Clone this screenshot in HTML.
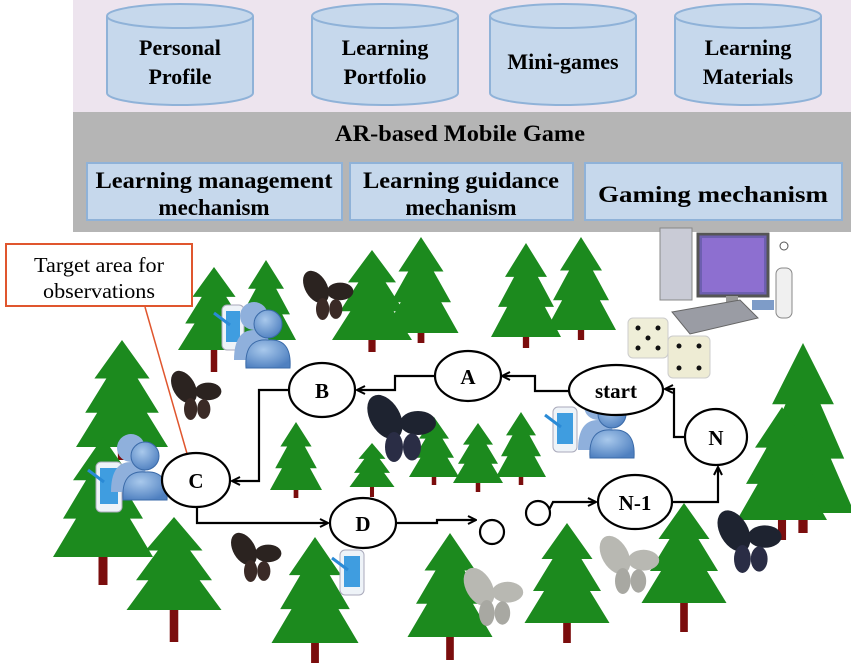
<!DOCTYPE html>
<html><head><meta charset="utf-8"><style>
html,body{margin:0;padding:0;background:#fff;}
svg{display:block;}
text{font-family:"Liberation Serif",serif;font-weight:bold;}
</style></head><body>
<svg id="s" width="851" height="669" viewBox="0 0 851 669" xmlns="http://www.w3.org/2000/svg">
<defs>
<radialGradient id="pg" cx="0.4" cy="0.35" r="0.7"><stop offset="0" stop-color="#a9c9ec"/><stop offset="1" stop-color="#4f80c0"/></radialGradient>
<marker id="ar" markerWidth="10" markerHeight="10" refX="9" refY="5" orient="auto" markerUnits="userSpaceOnUse"><path d="M1,1 L9,5 L1,9" fill="none" stroke="#000" stroke-width="2"/></marker>
</defs>
<rect x="73" y="0" width="778" height="112" fill="#ede4ee"/>
<rect x="73" y="112" width="778" height="120" fill="#b5b5b5"/>
<g id="cyl" fill="#c6d8ec" stroke="#8fb2d8" stroke-width="2"></g>
<text x="460" y="141" font-size="23" text-anchor="middle" textLength="250" lengthAdjust="spacingAndGlyphs">AR-based Mobile Game</text>
<g fill="#c6d8ec" stroke="#8fb2d8" stroke-width="2">
<rect x="87" y="163" width="255" height="57"/>
<rect x="350" y="163" width="223" height="57"/>
<rect x="585" y="163" width="257" height="57"/>
</g>
<g font-size="23" text-anchor="middle">
<text x="214" y="188" textLength="237" lengthAdjust="spacingAndGlyphs">Learning management</text><text x="214" y="215">mechanism</text>
<text x="461" y="188" textLength="196" lengthAdjust="spacingAndGlyphs">Learning guidance</text><text x="461" y="215">mechanism</text>
<text x="713" y="202" textLength="230" lengthAdjust="spacingAndGlyphs">Gaming mechanism</text>
</g>
<g id="trees"></g>
<g>
<rect x="660" y="228" width="32" height="72" fill="#c9cbd6" stroke="#888"/>
<rect x="698" y="234" width="70" height="62" fill="#6d5fb0" stroke="#555" stroke-width="3"/>
<polygon points="702,238 764,238 764,292 702,292" fill="#8d6fd0"/>
<rect x="726" y="296" width="12" height="12" fill="#999"/>
<polygon points="672,312 740,300 758,318 690,334" fill="#9a9ca4" stroke="#666"/>
<rect x="752" y="300" width="22" height="10" fill="#7e9cc8"/>
<rect x="776" y="268" width="16" height="50" rx="6" fill="#f0f0f0" stroke="#888"/>
<circle cx="784" cy="246" r="4" fill="none" stroke="#555"/>
</g>
<g>
<rect x="628" y="318" width="40" height="40" rx="5" fill="#efeed8" stroke="#ccc"/>
<rect x="668" y="336" width="42" height="42" rx="5" fill="#eeecd4" stroke="#ccc"/>
<g fill="#111"><circle cx="638" cy="328" r="2.5"/><circle cx="648" cy="338" r="2.5"/><circle cx="658" cy="348" r="2.5"/><circle cx="658" cy="328" r="2.5"/><circle cx="638" cy="348" r="2.5"/>
<circle cx="679" cy="346" r="2.5"/><circle cx="699" cy="346" r="2.5"/><circle cx="679" cy="368" r="2.5"/><circle cx="699" cy="368" r="2.5"/></g>
</g>
<g id="people"></g>
<g id="bflies"></g>
<rect x="6" y="244" width="186" height="62" fill="#fff" stroke="#e0562e" stroke-width="2"/>
<text x="99" y="272" font-size="21" text-anchor="middle" style="font-weight:normal" textLength="130" lengthAdjust="spacingAndGlyphs">Target area for</text>
<text x="99" y="298" font-size="21" text-anchor="middle" style="font-weight:normal" textLength="112" lengthAdjust="spacingAndGlyphs">observations</text>
<line x1="145" y1="307" x2="194" y2="478" stroke="#e0562e" stroke-width="1.5"/>
<g fill="none" stroke="#000" stroke-width="2.2">
<polyline points="570,391 535,391 535,376 502,376" marker-end="url(#ar)"/>
<polyline points="435,376 395,376 395,390 357,390" marker-end="url(#ar)"/>
<polyline points="292,390 259,390 259,481 232,481" marker-end="url(#ar)"/>
<polyline points="197,507 197,523 328,523" marker-end="url(#ar)"/>
<polyline points="396,523 437,523 437,520 476,520" marker-end="url(#ar)"/>
<polyline points="549,510 553,502 596,502" marker-end="url(#ar)"/>
<polyline points="672,502 718,502 718,467" marker-end="url(#ar)"/>
<polyline points="684,437 674,437 674,389 665,389" marker-end="url(#ar)"/>
</g>
<g fill="#fff" stroke="#000" stroke-width="2.2">
<ellipse cx="468" cy="376" rx="33" ry="25"/>
<ellipse cx="322" cy="390" rx="33" ry="27"/>
<ellipse cx="616" cy="390" rx="47" ry="25"/>
<ellipse cx="716" cy="437" rx="31" ry="28"/>
<ellipse cx="196" cy="480" rx="34" ry="27"/>
<ellipse cx="363" cy="523" rx="33" ry="25"/>
<circle cx="492" cy="532" r="12"/>
<circle cx="538" cy="513" r="12"/>
<ellipse cx="635" cy="502" rx="37" ry="27"/>
</g>
<g font-size="21" text-anchor="middle">
<text x="468" y="384">A</text><text x="322" y="398">B</text><text x="616" y="398">start</text>
<text x="716" y="445">N</text><text x="196" y="488">C</text><text x="363" y="531">D</text><text x="635" y="510">N-1</text>
</g>
<script>
var NS="http://www.w3.org/2000/svg";
function el(p,t,a){var e=document.createElementNS(NS,t);for(var k in a)e.setAttribute(k,a[k]);p.appendChild(e);return e;}
var cy=document.getElementById('cyl');
[[180,"Personal","Profile"],[385,"Learning","Portfolio"],[563,"Mini-games",null],[748,"Learning","Materials"]].forEach(function(c){
var x=c[0],w=73;
el(cy,'path',{d:'M'+(x-w)+',16 L'+(x-w)+',93 A'+w+',12 0 0 0 '+(x+w)+',93 L'+(x+w)+',16'});
el(cy,'ellipse',{cx:x,cy:16,rx:w,ry:12});
var s=document.getElementById('s');
if(c[2]){var t=el(s,'text',{x:x,y:55,'font-size':22,'text-anchor':'middle'});t.textContent=c[1];
t=el(s,'text',{x:x,y:84,'font-size':22,'text-anchor':'middle'});t.textContent=c[2];}
else{var t=el(s,'text',{x:x,y:69,'font-size':22,'text-anchor':'middle'});t.textContent=c[1];}
});
var tg=document.getElementById('trees');
var T=[[214,267,350,72,372],[266,260,340,60,355],[372,250,340,80,352],[421,237,333,75,343],[526,243,337,70,348],[581,237,330,70,340],
[122,340,447,92,460],[103,437,557,100,585],[174,517,610,95,642],[296,422,490,52,498],[372,443,487,45,497],[434,417,477,50,485],[478,423,483,50,492],[521,412,477,50,485],
[315,537,643,87,663],[450,533,637,85,660],[567,523,623,85,643],[684,503,603,85,632],[803,343,513,103,533],[782,407,520,90,540]];
T.forEach(function(t){var cx=t[0],top=t[1],bot=t[2],w=t[3],tb=t[4],h=bot-top;
el(tg,'rect',{x:cx-w*0.045,y:bot-5,width:w*0.09,height:tb-bot+5,fill:'#7b0d0d'});
var y1=top+h*0.36,y2=top+h*0.68;
var p=[[cx,top],[cx+w*0.3,y1],[cx+w*0.17,y1],[cx+w*0.4,y2],[cx+w*0.27,y2],[cx+w*0.5,bot],[cx-w*0.5,bot],[cx-w*0.27,y2],[cx-w*0.4,y2],[cx-w*0.17,y1],[cx-w*0.3,y1]];
el(tg,'polygon',{points:p.map(function(q){return q.join(',')}).join(' '),fill:'#1c8a1e'});
});
var pg=document.getElementById('people');
function phone(x,y,w,h){el(pg,'rect',{x:x,y:y,width:w,height:h,rx:5,fill:'#eef3f8',stroke:'#aab'});el(pg,'rect',{x:x+4,y:y+6,width:w-8,height:h-14,fill:'#3f9de0'});el(pg,'line',{x1:x-8,y1:y+8,x2:x+8,y2:y+20,stroke:'#2a8ad6','stroke-width':3});}
function person(x,y){el(pg,'circle',{cx:x-14,cy:y-22,r:14,fill:'#8fb0dc'});el(pg,'path',{d:'M'+(x-34)+','+(y+22)+' Q'+(x-34)+','+(y-8)+' '+(x-14)+','+(y-8)+' Q'+(x+4)+','+(y-8)+' '+(x+4)+','+(y+22)+'Z',fill:'#8fb0dc'});
el(pg,'circle',{cx:x,cy:y-14,r:14,fill:'url(#pg)',stroke:'#3a6aa8'});el(pg,'path',{d:'M'+(x-22)+','+(y+30)+' Q'+(x-24)+','+y+' '+x+','+(y+2)+' Q'+(x+24)+','+y+' '+(x+22)+','+(y+30)+'Z',fill:'url(#pg)',stroke:'#3a6aa8'});}
phone(222,305,22,45);person(268,338);
phone(96,462,26,50);person(145,470);
phone(553,407,24,45);person(612,428);
phone(340,550,24,45);
var bg=document.getElementById('bflies');
function bf(x,y,s,c1,c2){el(bg,'ellipse',{cx:x-10*s,cy:y-10*s,rx:10*s,ry:16*s,fill:c1,transform:'rotate(-30 '+(x-10*s)+' '+(y-10*s)+')'});
el(bg,'ellipse',{cx:x+12*s,cy:y-6*s,rx:12*s,ry:8*s,fill:c1});el(bg,'ellipse',{cx:x-4*s,cy:y+10*s,rx:6*s,ry:10*s,fill:c2});el(bg,'ellipse',{cx:x+8*s,cy:y+10*s,rx:6*s,ry:9*s,fill:c2});}
bf(327,298,1.1,'#2b2320','#3a2a26');bf(195,398,1.1,'#2b2320','#3a2a26');bf(255,560,1.1,'#2b2320','#3a2a26');
bf(400,432,1.5,'#1e2330','#2a2d45');bf(748,545,1.4,'#1e2330','#2a2d45');
bf(492,600,1.3,'#b8b8b2','#a8a8a2');bf(628,568,1.3,'#b8b8b2','#a8a8a2');
</script>
</svg>
</body></html>
